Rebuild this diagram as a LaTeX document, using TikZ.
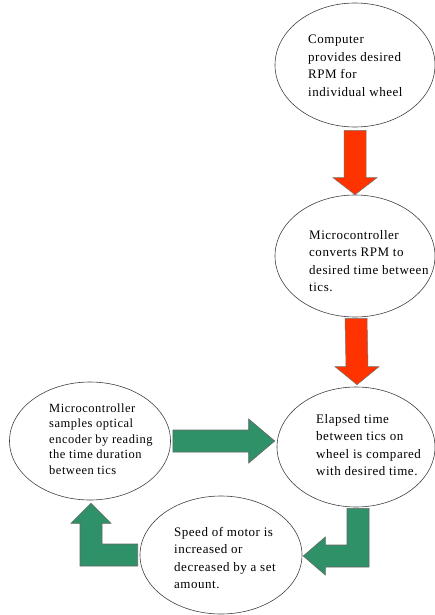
\documentclass[tikz,border=0pt]{standalone}
\usepackage{fontspec}
\setmainfont[LetterSpace=4]{Liberation Serif}
\usepackage{tikz}
\usetikzlibrary{calc,shapes.geometric}

\definecolor{arrowred}{RGB}{255,51,0}
\definecolor{arrowgreen}{RGB}{46,145,104}

\tikzset{
  bubble/.style={draw=black!75, line width=0.6pt, ellipse, inner sep=0pt},
  txt/.style={inner sep=0pt, anchor=west, align=left, font=\fontsize{13}{17.5}\selectfont},
  redarrow/.style={fill=arrowred, draw=black!55, line width=0.5pt, line join=miter},
  greenarrow/.style={fill=arrowgreen, draw=black!60, line width=0.6pt, line join=miter}
}

\begin{document}
\begin{tikzpicture}[x=1pt,y=-1pt]
\useasboundingbox (0,0) rectangle (435,615);

% Ellipses
\node[bubble, minimum width=160, minimum height=124] (c1) at (355,65) {};
\node[bubble, minimum width=160, minimum height=122] (c2) at (355,256) {};
\node[bubble, minimum width=158, minimum height=120] (c3) at (356,447) {};
\node[bubble, minimum width=161, minimum height=118] (c4) at (90,441) {};
\node[bubble, minimum width=162, minimum height=118] (c5) at (221,555) {};

% Texts
\node[txt] (t1) at ($(c1.center)+(-47,1)$) {Computer\\provides desired\\RPM for\\individual wheel};
\node[txt] (t2) at ($(c2.center)+(-46,5)$) {Microcontroller\\converts RPM to\\desired time between\\tics.};
\node[txt] (t3) at ($(c3.center)+(-40,-2)$) {Elapsed time\\between tics on\\wheel is compared\\with desired time.};
\node[txt, font=\fontsize{12.5}{15.5}\selectfont] (t4) at ($(c4.center)+(-41,-2)$) {Microcontroller\\samples optical\\encoder by reading\\the time duration\\between tics};
\node[txt] (t5) at ($(c5.center)+(-47,3)$) {Speed of motor is\\increased or\\decreased by a set\\amount.};

% Red arrows
\draw[redarrow] ($(c1.south)+(-11,3)$) -- ($(c1.south)+(11,3)$) -- ($(c2.north)+(11,-17)$)
  -- ($(c2.north)+(22,-17)$) -- (c2.north) -- ($(c2.north)+(-22,-17)$) -- ($(c2.north)+(-11,-17)$) -- cycle;
\coordinate (r2tip) at ($(c3.north)+(1,-2)$);
\draw[redarrow] ($(c2.south)+(-10,1)$) -- ($(c2.south)+(12,1)$) -- ($(r2tip)+(11,-18)$)
  -- ($(r2tip)+(22,-18)$) -- (r2tip) -- ($(r2tip)+(-22,-18)$) -- ($(r2tip)+(-11,-18)$) -- cycle;

% Green arrows
\coordinate (g1tip) at ($(c3.west |- c4.east)+(-2,0)$);
\draw[greenarrow] ($(c4.east)+(2,-11)$) -- ($(g1tip)+(-26,-11)$) -- ($(g1tip)+(-26,-22)$) -- (g1tip)
  -- ($(g1tip)+(-26,22)$) -- ($(g1tip)+(-26,11)$) -- ($(c4.east)+(2,11)$) -- cycle;

\coordinate (g2top) at ($(c3.south)+(2,1)$);
\coordinate (g2tip) at ($(c5.east)+(1,1)$);
\draw[greenarrow] ($(g2top)+(-11,0)$) -- ($(g2top)+(11,0)$) -- ($(g2top |- g2tip)+(11,11)$)
  -- ($(g2tip)+(22,11)$) -- ($(g2tip)+(22,19)$) -- (g2tip) -- ($(g2tip)+(22,-19)$)
  -- ($(g2tip)+(22,-11)$) -- ($(g2top |- g2tip)+(-11,-11)$) -- cycle;

\coordinate (g3end) at ($(c5.west)+(-2,0)$);
\coordinate (g3tip) at ($(c4.south)+(1,3)$);
\draw[greenarrow] ($(g3end)+(0,-11)$) -- ($(g3end)+(0,11)$) -- ($(g3tip |- g3end)+(-11,11)$)
  -- ($(g3tip)+(-11,20)$) -- ($(g3tip)+(-20,20)$) -- (g3tip) -- ($(g3tip)+(20,20)$)
  -- ($(g3tip)+(11,20)$) -- ($(g3tip |- g3end)+(11,-11)$) -- cycle;
\end{tikzpicture}
\end{document}
